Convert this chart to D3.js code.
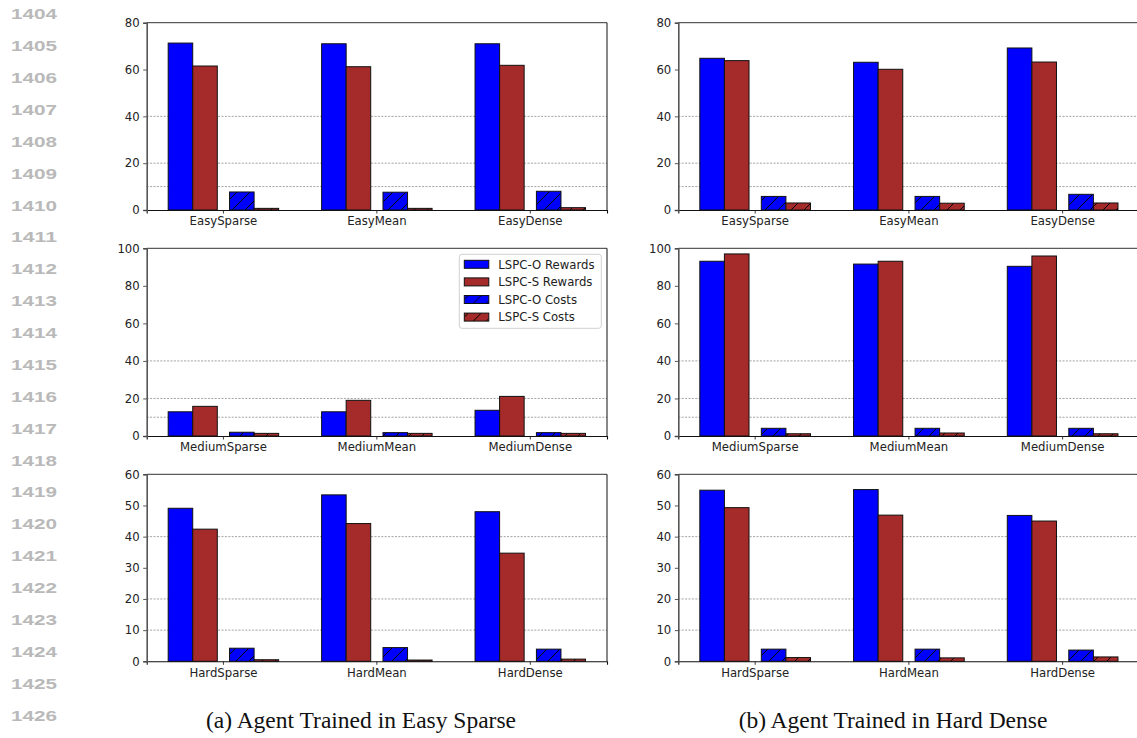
<!DOCTYPE html>
<html>
<head>
<meta charset="utf-8">
<script src="https://cdn.jsdelivr.net/npm/d3@7"></script>
<style>
  html, body { margin: 0; padding: 0; background: #fff; }
  svg { display: block; }
</style>
</head>
<body>
<svg id="fig" width="1137" height="738"></svg>
<script>
// ---- data -------------------------------------------------------------
const easyCats   = ["EasySparse", "EasyMean", "EasyDense"];
const mediumCats = ["MediumSparse", "MediumMean", "MediumDense"];
const hardCats   = ["HardSparse", "HardMean", "HardDense"];

const seriesNames = ["LSPC-O Rewards", "LSPC-S Rewards", "LSPC-O Costs", "LSPC-S Costs"];

const yTicksEasy   = [0, 20, 40, 60, 80];
const yTicksMedium = [0, 20, 40, 60, 80, 100];
const yTicksHard   = [0, 10, 20, 30, 40, 50, 60];
const gridLevels   = [10, 20, 40];

// (a) agent trained in Easy Sparse — rows: [O rewards, S rewards, O costs, S costs]
const trainedEasyOnEasy   = [[71.3, 71.0, 71.0], [61.5, 61.2, 61.8], [7.7, 7.6, 8.0], [0.7, 0.7, 1.0]];
const trainedEasyOnMedium = [[12.9, 12.9, 13.7], [15.8, 19.0, 21.1], [2.0, 1.8, 1.8], [1.4, 1.4, 1.4]];
const trainedEasyOnHard   = [[49.1, 53.4, 48.0], [42.4, 44.2, 34.7], [4.2, 4.4, 3.9], [0.5, 0.4, 0.7]];

// (b) agent trained in Hard Dense
const trainedHardOnEasy   = [[64.8, 63.1, 69.2], [63.8, 60.1, 63.2], [5.8, 5.8, 6.7], [3.0, 2.9, 3.0]];
const trainedHardOnMedium = [[93.1, 91.6, 90.4], [97.0, 93.1, 95.9], [4.1, 4.1, 4.1], [1.2, 1.6, 1.2]];
const trainedHardOnHard   = [[54.9, 55.1, 46.8], [49.3, 46.9, 45.0], [3.9, 3.9, 3.6], [1.2, 1.1, 1.4]];

const captions = ["(a) Agent Trained in Easy Sparse", "(b) Agent Trained in Hard Dense"];
const firstLineNo = 1404;
const lineCount = 23;

// ---- styling ----------------------------------------------------------
const BLUE = "#0000ff", BROWN = "#a52a2a";
const seriesFill = [BLUE, BROWN, "url(#hatchBlue)", "url(#hatchBrown)"];
const offsets = [-1.75, -0.75, 0.75, 1.75];   // bar centre offsets in bar widths
const barFrac = 0.16;                          // bar width as fraction of the category step
const tickFont = "'DejaVu Sans', sans-serif";
const tickSize = 11.7;

const svg = d3.select("#fig");

// hatch patterns for the cost bars
const defs = svg.append("defs");
[["hatchBlue", BLUE], ["hatchBrown", BROWN]].forEach(([id, col]) => {
  const p = defs.append("pattern").attr("id", id)
    .attr("patternUnits", "userSpaceOnUse").attr("width", 13).attr("height", 13);
  p.append("rect").attr("width", 13).attr("height", 13).attr("fill", col);
  p.append("path").attr("d", "M0,13 L13,0 M-3,3 L3,-3 M10,16 L16,10")
    .attr("stroke", "#000").attr("stroke-width", 1);
});

// line numbers down the left margin
const lineNos = d3.range(lineCount).map(i => firstLineNo + i);
svg.append("g").selectAll("text").data(lineNos).join("text")
  .attr("x", 11).attr("y", (d, i) => 13.8 + i * 31.87)
  .attr("dy", "0.36em")
  .attr("textLength", 46).attr("lengthAdjust", "spacingAndGlyphs")
  .attr("font-family", "'Liberation Sans', Arial, sans-serif")
  .attr("font-weight", "bold").attr("font-size", 15.5)
  .attr("fill", "#b9b9b9")
  .text(d => d);

// panel geometry
const cols = [{ x0: 146.7, x1: 607.0 }, { x0: 678.3, x1: 1139.5 }];
const rows = [
  { y0: 22.7, y1: 210.0, cats: easyCats, ticks: yTicksEasy },
  { y0: 248.3, y1: 436.0, cats: mediumCats, ticks: yTicksMedium },
  { y0: 474.3, y1: 661.3, cats: hardCats, ticks: yTicksHard }
];
const panelData = [
  [trainedEasyOnEasy, trainedEasyOnMedium, trainedEasyOnHard],
  [trainedHardOnEasy, trainedHardOnMedium, trainedHardOnHard]
];

function drawPanel(col, row, data, withLegend) {
  const g = svg.append("g");
  const x = d3.scaleBand().domain(row.cats).range([col.x0, col.x1]).padding(0);
  const yMax = row.ticks[row.ticks.length - 1];
  const y = d3.scaleLinear().domain([0, yMax]).range([row.y1, row.y0]);
  const step = x.bandwidth();
  const bw = step * barFrac;

  // dotted reference lines
  g.append("g").selectAll("line").data(gridLevels).join("line")
    .attr("x1", col.x0).attr("x2", col.x1)
    .attr("y1", d => y(d)).attr("y2", d => y(d))
    .attr("stroke", "#8a8a8a").attr("stroke-width", 0.8)
    .attr("stroke-dasharray", "2,1.4");

  // bars
  const bars = [];
  data.forEach((vals, s) => vals.forEach((v, i) => bars.push({ s, cat: row.cats[i], v })));
  g.append("g").selectAll("rect").data(bars).join("rect")
    .attr("x", d => x(d.cat) + step / 2 + offsets[d.s] * bw - bw / 2)
    .attr("width", bw)
    .attr("y", d => y(d.v))
    .attr("height", d => y(0) - y(d.v))
    .attr("fill", d => seriesFill[d.s])
    .attr("stroke", "#111").attr("stroke-width", 1);

  // spines
  g.append("line").attr("x1", col.x0).attr("x2", col.x1).attr("y1", row.y0).attr("y2", row.y0)
    .attr("stroke", "#333").attr("stroke-width", 1);
  g.append("line").attr("x1", col.x1).attr("x2", col.x1).attr("y1", row.y0).attr("y2", row.y1)
    .attr("stroke", "#111").attr("stroke-width", 1);

  // axes
  const xAxis = d3.axisBottom(x).tickSize(3.5).tickPadding(3.5);
  const gx = g.append("g").attr("transform", `translate(0,${row.y1})`).call(xAxis);
  gx.select(".domain").attr("stroke", "#111").attr("stroke-width", 1.1);
  gx.selectAll(".tick line").attr("stroke", "#222").attr("stroke-width", 0.9);
  gx.selectAll("text").attr("font-family", tickFont).attr("font-size", tickSize).attr("fill", "#222");

  const yAxis = d3.axisLeft(y).tickValues(row.ticks).tickSize(3.5).tickPadding(3.5).tickFormat(d3.format("d"));
  const gy = g.append("g").attr("transform", `translate(${col.x0},0)`).call(yAxis);
  gy.select(".domain").attr("stroke", "#555").attr("stroke-width", 1.6);
  gy.selectAll(".tick line").attr("stroke", "#444").attr("stroke-width", 0.9);
  gy.selectAll("text").attr("font-family", tickFont).attr("font-size", tickSize).attr("fill", "#222");

  if (withLegend) {
    const lx = col.x1 - 147.7, ly = row.y0 + 6, lw = 142, lh = 74;
    const lg = g.append("g");
    lg.append("rect").attr("x", lx).attr("y", ly).attr("width", lw).attr("height", lh)
      .attr("rx", 2.5).attr("fill", "#fff").attr("fill-opacity", 0.85)
      .attr("stroke", "#d0d0d0").attr("stroke-width", 1);
    const items = lg.selectAll("g").data(seriesNames).join("g")
      .attr("transform", (d, i) => `translate(${lx + 5},${ly + 10 + i * 17.6})`);
    items.append("rect").attr("x", 0).attr("y", -4).attr("width", 24.5).attr("height", 8)
      .attr("fill", (d, i) => seriesFill[i]).attr("stroke", "#111").attr("stroke-width", 1);
    items.append("text").attr("x", 34).attr("y", 0).attr("dy", "0.36em")
      .attr("font-family", tickFont).attr("font-size", tickSize).attr("fill", "#222")
      .text(d => d);
  }
}

cols.forEach((col, c) => rows.forEach((row, r) =>
  drawPanel(col, row, panelData[c][r], c === 0 && r === 1)));

// sub-figure captions
svg.append("g").selectAll("text").data(captions).join("text")
  .attr("x", (d, i) => [361, 893][i]).attr("y", 728)
  .attr("text-anchor", "middle")
  .attr("font-family", "'Liberation Serif', 'Times New Roman', serif")
  .attr("font-size", 23.5).attr("fill", "#111")
  .text(d => d);
</script>
</body>
</html>
